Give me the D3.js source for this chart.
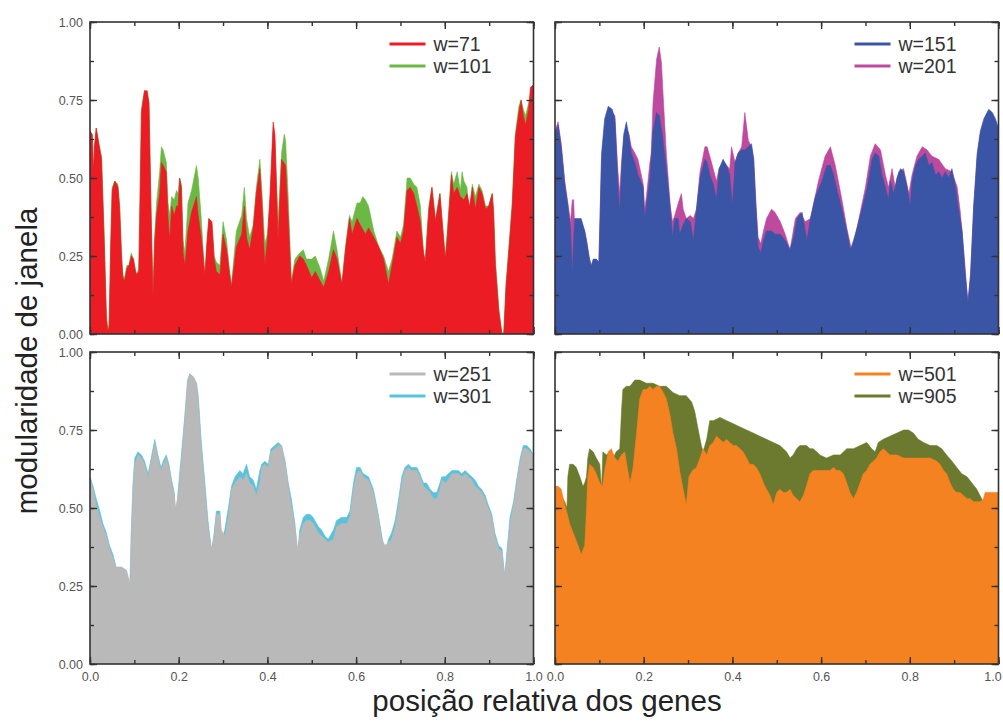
<!DOCTYPE html>
<html>
<head>
<meta charset="utf-8">
<script src="https://cdnjs.cloudflare.com/ajax/libs/d3/7.8.5/d3.min.js"></script>
<style>
  body { margin: 0; background: #fff; }
  svg { display: block; font-family: "Liberation Sans", Arial, sans-serif; }
</style>
</head>
<body>
<div id="chart"></div>
<script>
// series: [posição relativa, modularidade]
const w71 = [[0,0.65],[0.005,0.64],[0.008,0.52],[0.010,0.60],[0.014,0.66],[0.020,0.61],[0.026,0.56],[0.032,0.30],[0.037,0.05],[0.040,0.01],[0.043,0.02],[0.047,0.30],[0.050,0.46],[0.056,0.49],[0.063,0.47],[0.067,0.40],[0.071,0.25],[0.074,0.18],[0.078,0.17],[0.083,0.21],[0.088,0.22],[0.093,0.25],[0.098,0.24],[0.101,0.21],[0.105,0.19],[0.110,0.20],[0.113,0.45],[0.116,0.71],[0.120,0.75],[0.123,0.78],[0.129,0.78],[0.133,0.74],[0.135,0.59],[0.138,0.37],[0.142,0.12],[0.146,0.30],[0.150,0.38],[0.157,0.45],[0.161,0.55],[0.165,0.54],[0.172,0.52],[0.176,0.37],[0.180,0.30],[0.184,0.41],[0.190,0.38],[0.195,0.41],[0.199,0.41],[0.202,0.50],[0.206,0.47],[0.210,0.26],[0.214,0.22],[0.221,0.33],[0.229,0.39],[0.240,0.44],[0.244,0.38],[0.251,0.31],[0.259,0.19],[0.264,0.30],[0.268,0.37],[0.275,0.36],[0.280,0.24],[0.285,0.20],[0.293,0.19],[0.300,0.32],[0.308,0.27],[0.315,0.19],[0.319,0.15],[0.330,0.28],[0.342,0.32],[0.348,0.41],[0.353,0.31],[0.360,0.27],[0.368,0.34],[0.375,0.45],[0.383,0.53],[0.388,0.41],[0.394,0.22],[0.400,0.30],[0.406,0.45],[0.413,0.68],[0.417,0.64],[0.421,0.44],[0.424,0.30],[0.432,0.56],[0.441,0.54],[0.447,0.37],[0.454,0.16],[0.462,0.22],[0.473,0.25],[0.481,0.24],[0.488,0.22],[0.500,0.18],
  [0.508,0.20],[0.519,0.17],[0.527,0.15],[0.538,0.20],[0.549,0.27],[0.557,0.24],[0.568,0.16],[0.576,0.27],[0.585,0.37],[0.591,0.32],[0.602,0.37],[0.609,0.35],[0.621,0.32],[0.628,0.34],[0.640,0.31],[0.651,0.28],[0.662,0.24],[0.673,0.16],[0.681,0.22],[0.692,0.31],[0.700,0.29],[0.707,0.33],[0.715,0.46],[0.722,0.47],[0.730,0.45],[0.737,0.41],[0.745,0.36],[0.752,0.26],[0.756,0.23],[0.764,0.40],[0.771,0.47],[0.779,0.36],[0.789,0.45],[0.794,0.36],[0.801,0.24],[0.805,0.30],[0.815,0.51],[0.820,0.45],[0.828,0.47],[0.835,0.44],[0.843,0.43],[0.850,0.45],[0.856,0.41],[0.862,0.47],[0.869,0.40],[0.877,0.47],[0.884,0.45],[0.892,0.40],[0.899,0.41],[0.907,0.45],[0.910,0.39],[0.914,0.22],[0.922,0.07],[0.929,0.0],[0.933,0.0],[0.938,0.15],[0.944,0.26],[0.952,0.41],[0.959,0.63],[0.967,0.71],[0.972,0.75],[0.977,0.70],[0.982,0.67],[0.989,0.72],[0.993,0.79],[1.0,0.80]];

const w101 = [[0,0.65],[0.005,0.64],[0.008,0.52],[0.010,0.60],[0.014,0.66],[0.020,0.61],[0.026,0.57],[0.032,0.32],[0.037,0.06],[0.040,0.02],[0.043,0.03],[0.047,0.31],[0.050,0.47],[0.056,0.49],[0.063,0.48],[0.067,0.41],[0.071,0.26],[0.074,0.19],[0.078,0.18],[0.083,0.22],[0.088,0.22],[0.093,0.26],[0.098,0.24],[0.101,0.22],[0.105,0.19],[0.110,0.21],[0.113,0.46],[0.116,0.72],[0.120,0.76],[0.123,0.78],[0.129,0.77],[0.133,0.74],[0.135,0.60],[0.138,0.38],[0.142,0.13],[0.146,0.32],[0.150,0.42],[0.157,0.52],[0.161,0.60],[0.165,0.59],[0.172,0.55],[0.176,0.42],[0.180,0.38],[0.184,0.44],[0.190,0.43],[0.195,0.46],[0.199,0.45],[0.202,0.50],[0.206,0.48],[0.210,0.30],[0.214,0.26],[0.221,0.42],[0.229,0.46],[0.240,0.54],[0.244,0.50],[0.251,0.37],[0.259,0.18],[0.264,0.30],[0.268,0.37],[0.275,0.35],[0.280,0.25],[0.285,0.23],[0.293,0.22],[0.300,0.36],[0.308,0.30],[0.315,0.20],[0.319,0.16],[0.330,0.33],[0.342,0.38],[0.348,0.47],[0.353,0.37],[0.360,0.31],[0.368,0.35],[0.375,0.47],[0.383,0.56],[0.388,0.45],[0.394,0.29],[0.400,0.32],[0.406,0.43],[0.413,0.65],[0.417,0.62],[0.421,0.48],[0.424,0.36],[0.432,0.58],[0.438,0.64],[0.441,0.62],[0.447,0.44],[0.454,0.17],[0.462,0.24],[0.473,0.26],[0.481,0.27],[0.488,0.24],[0.500,0.24],
  [0.508,0.25],[0.519,0.21],[0.527,0.17],[0.538,0.24],[0.549,0.33],[0.557,0.27],[0.568,0.16],[0.576,0.28],[0.585,0.38],[0.591,0.36],[0.602,0.42],[0.609,0.42],[0.615,0.44],[0.621,0.43],[0.628,0.41],[0.640,0.33],[0.651,0.28],[0.662,0.25],[0.673,0.20],[0.681,0.24],[0.692,0.33],[0.700,0.31],[0.707,0.35],[0.715,0.50],[0.722,0.50],[0.730,0.48],[0.737,0.47],[0.745,0.41],[0.752,0.26],[0.756,0.24],[0.764,0.41],[0.771,0.47],[0.779,0.37],[0.789,0.45],[0.794,0.37],[0.801,0.25],[0.805,0.32],[0.815,0.52],[0.820,0.48],[0.828,0.52],[0.835,0.46],[0.839,0.52],[0.843,0.49],[0.850,0.47],[0.856,0.37],[0.862,0.48],[0.869,0.44],[0.877,0.48],[0.884,0.46],[0.892,0.41],[0.899,0.41],[0.907,0.45],[0.910,0.40],[0.914,0.24],[0.922,0.08],[0.929,0.0],[0.933,0.01],[0.938,0.16],[0.944,0.27],[0.952,0.42],[0.959,0.64],[0.967,0.73],[0.972,0.75],[0.977,0.72],[0.982,0.70],[0.989,0.74],[0.993,0.76],[1.0,0.77]];

const w151 = [[0,0.64],[0.007,0.67],[0.014,0.60],[0.022,0.48],[0.029,0.41],[0.035,0.34],[0.039,0.19],[0.042,0.30],[0.044,0.37],[0.052,0.37],[0.059,0.37],[0.067,0.33],[0.071,0.30],[0.078,0.24],[0.082,0.22],[0.086,0.24],[0.093,0.24],[0.099,0.23],[0.105,0.58],[0.112,0.69],[0.120,0.73],[0.129,0.72],[0.135,0.69],[0.138,0.60],[0.142,0.47],[0.146,0.39],[0.150,0.53],[0.155,0.64],[0.161,0.68],[0.167,0.63],[0.172,0.58],[0.180,0.55],[0.187,0.51],[0.193,0.49],[0.199,0.47],[0.202,0.37],[0.206,0.41],[0.214,0.50],[0.221,0.65],[0.229,0.71],[0.235,0.70],[0.242,0.64],[0.251,0.53],[0.260,0.40],[0.265,0.31],[0.270,0.37],[0.278,0.37],[0.281,0.32],[0.289,0.35],[0.296,0.37],[0.305,0.36],[0.312,0.30],[0.319,0.40],[0.327,0.50],[0.338,0.56],[0.343,0.55],[0.349,0.51],[0.357,0.48],[0.364,0.43],[0.370,0.53],[0.379,0.56],[0.387,0.54],[0.394,0.51],[0.400,0.41],[0.406,0.55],[0.413,0.58],[0.421,0.59],[0.428,0.59],[0.436,0.60],[0.443,0.61],[0.448,0.56],[0.453,0.41],[0.458,0.28],[0.464,0.26],[0.470,0.30],[0.477,0.33],[0.488,0.33],[0.496,0.32],
  [0.508,0.32],[0.519,0.30],[0.530,0.27],[0.538,0.31],[0.546,0.37],[0.557,0.39],[0.568,0.30],[0.576,0.37],[0.587,0.44],[0.602,0.49],[0.613,0.54],[0.621,0.54],[0.628,0.51],[0.636,0.46],[0.647,0.40],[0.658,0.33],[0.666,0.27],[0.673,0.30],[0.681,0.34],[0.692,0.40],[0.704,0.47],[0.715,0.56],[0.722,0.58],[0.730,0.57],[0.737,0.51],[0.745,0.47],[0.752,0.43],[0.756,0.49],[0.764,0.45],[0.771,0.50],[0.779,0.53],[0.786,0.52],[0.794,0.47],[0.801,0.41],[0.805,0.49],[0.813,0.54],[0.820,0.56],[0.828,0.57],[0.835,0.58],[0.843,0.54],[0.850,0.55],[0.858,0.51],[0.865,0.52],[0.873,0.50],[0.880,0.52],[0.888,0.50],[0.895,0.53],[0.903,0.47],[0.910,0.40],[0.918,0.33],[0.925,0.19],[0.931,0.10],[0.937,0.19],[0.944,0.41],[0.952,0.58],[0.959,0.65],[0.967,0.69],[0.978,0.72],[0.986,0.71],[0.993,0.69],[1.0,0.66]];

const w201 = [[0,0.65],[0.007,0.68],[0.014,0.61],[0.022,0.49],[0.029,0.42],[0.035,0.36],[0.039,0.43],[0.042,0.43],[0.044,0.36],[0.052,0.36],[0.059,0.36],[0.067,0.33],[0.071,0.30],[0.078,0.23],[0.082,0.20],[0.086,0.23],[0.093,0.24],[0.099,0.23],[0.105,0.55],[0.112,0.66],[0.120,0.72],[0.129,0.71],[0.135,0.70],[0.138,0.62],[0.142,0.52],[0.146,0.45],[0.150,0.55],[0.155,0.63],[0.161,0.66],[0.167,0.64],[0.172,0.60],[0.180,0.58],[0.187,0.56],[0.193,0.52],[0.199,0.48],[0.202,0.40],[0.206,0.44],[0.214,0.55],[0.217,0.58],[0.221,0.74],[0.229,0.88],[0.235,0.92],[0.240,0.87],[0.244,0.76],[0.251,0.58],[0.260,0.41],[0.265,0.36],[0.270,0.38],[0.278,0.42],[0.285,0.45],[0.289,0.40],[0.296,0.37],[0.305,0.38],[0.312,0.37],[0.319,0.40],[0.327,0.52],[0.338,0.60],[0.343,0.60],[0.353,0.55],[0.364,0.49],[0.370,0.53],[0.379,0.55],[0.387,0.54],[0.394,0.53],[0.398,0.60],[0.406,0.55],[0.413,0.58],[0.421,0.60],[0.428,0.71],[0.436,0.62],[0.443,0.60],[0.448,0.56],[0.453,0.42],[0.458,0.31],[0.464,0.29],[0.470,0.33],[0.477,0.37],[0.488,0.40],[0.496,0.39],
  [0.508,0.36],[0.519,0.32],[0.530,0.27],[0.542,0.37],[0.553,0.39],[0.564,0.36],[0.576,0.37],[0.594,0.49],[0.609,0.57],[0.621,0.60],[0.632,0.54],[0.647,0.43],[0.658,0.34],[0.670,0.26],[0.681,0.34],[0.700,0.47],[0.711,0.57],[0.722,0.61],[0.734,0.59],[0.745,0.51],[0.752,0.47],[0.760,0.53],[0.767,0.47],[0.775,0.52],[0.786,0.53],[0.798,0.45],[0.805,0.51],[0.816,0.57],[0.828,0.60],[0.839,0.59],[0.850,0.57],[0.865,0.56],[0.880,0.53],[0.895,0.52],[0.907,0.47],[0.914,0.39],[0.922,0.26],[0.931,0.10],[0.937,0.19],[0.944,0.40],[0.952,0.57],[0.959,0.64],[0.967,0.68],[0.978,0.71],[0.986,0.70],[0.993,0.68],[1.0,0.65]];

const w251 = [[0,0.59],[0.007,0.56],[0.014,0.51],[0.022,0.47],[0.029,0.44],[0.037,0.41],[0.044,0.37],[0.052,0.34],[0.059,0.31],[0.071,0.31],[0.082,0.30],[0.090,0.26],[0.093,0.41],[0.097,0.56],[0.101,0.64],[0.108,0.67],[0.116,0.66],[0.123,0.64],[0.131,0.60],[0.138,0.65],[0.146,0.71],[0.153,0.66],[0.160,0.62],[0.165,0.64],[0.172,0.66],[0.178,0.63],[0.184,0.58],[0.190,0.54],[0.193,0.50],[0.199,0.54],[0.206,0.65],[0.214,0.79],[0.220,0.90],[0.225,0.93],[0.233,0.92],[0.240,0.90],[0.244,0.84],[0.251,0.69],[0.259,0.56],[0.266,0.44],[0.274,0.37],[0.280,0.41],[0.285,0.48],[0.293,0.48],[0.296,0.43],[0.304,0.41],[0.312,0.47],[0.319,0.56],[0.327,0.58],[0.338,0.60],[0.345,0.59],[0.353,0.61],[0.360,0.58],[0.368,0.57],[0.375,0.54],[0.383,0.58],[0.387,0.63],[0.394,0.64],[0.402,0.63],[0.408,0.68],[0.417,0.69],[0.424,0.70],[0.432,0.70],[0.440,0.64],[0.447,0.57],[0.454,0.51],[0.462,0.44],[0.468,0.37],[0.473,0.41],[0.481,0.45],[0.488,0.46],[0.496,0.46],[0.503,0.45],[0.515,0.42],[0.522,0.41],[0.530,0.40],[0.537,0.39],[0.549,0.40],[0.556,0.44],[0.567,0.45],[0.579,0.45],[0.586,0.47],[0.594,0.56],[0.601,0.61],[0.609,0.62],[0.616,0.60],[0.628,0.59],[0.639,0.55],[0.650,0.47],[0.658,0.40],[0.665,0.38],[0.673,0.39],[0.680,0.40],[0.688,0.44],[0.695,0.50],[0.703,0.58],[0.710,0.62],[0.718,0.63],[0.725,0.62],[0.737,0.62],[0.744,0.60],[0.752,0.57],[0.759,0.56],[0.767,0.55],[0.774,0.53],[0.782,0.53],[0.789,0.56],[0.793,0.59],[0.801,0.58],[0.808,0.59],[0.816,0.61],[0.823,0.61],[0.831,0.61],[0.838,0.60],[0.846,0.61],[0.853,0.60],[0.861,0.59],[0.868,0.57],[0.876,0.56],[0.883,0.55],[0.891,0.53],[0.898,0.50],[0.906,0.47],[0.913,0.41],[0.921,0.37],[0.929,0.36],[0.935,0.28],[0.940,0.34],[0.947,0.45],[0.955,0.51],[0.962,0.58],[0.970,0.65],[0.977,0.69],[0.985,0.69],[0.992,0.68],[1.0,0.67]];

const w301 = [[0,0.60],[0.007,0.57],[0.014,0.53],[0.022,0.49],[0.029,0.45],[0.037,0.42],[0.044,0.38],[0.052,0.35],[0.059,0.31],[0.071,0.31],[0.082,0.30],[0.090,0.24],[0.093,0.42],[0.097,0.58],[0.101,0.66],[0.108,0.68],[0.116,0.67],[0.123,0.65],[0.131,0.61],[0.138,0.66],[0.146,0.72],[0.153,0.67],[0.160,0.63],[0.165,0.65],[0.172,0.67],[0.178,0.64],[0.184,0.59],[0.190,0.55],[0.193,0.45],[0.199,0.56],[0.206,0.67],[0.214,0.80],[0.220,0.91],[0.225,0.93],[0.233,0.92],[0.240,0.90],[0.244,0.86],[0.251,0.71],[0.259,0.58],[0.266,0.46],[0.274,0.36],[0.280,0.42],[0.285,0.49],[0.293,0.49],[0.296,0.39],[0.304,0.43],[0.312,0.50],[0.319,0.57],[0.327,0.60],[0.338,0.62],[0.345,0.61],[0.353,0.64],[0.360,0.60],[0.368,0.59],[0.375,0.56],[0.383,0.62],[0.387,0.64],[0.394,0.65],[0.402,0.64],[0.408,0.69],[0.417,0.70],[0.424,0.71],[0.432,0.70],[0.440,0.65],[0.447,0.58],[0.454,0.53],[0.462,0.45],[0.468,0.35],[0.473,0.43],[0.481,0.47],[0.488,0.48],[0.496,0.48],[0.503,0.47],[0.515,0.44],[0.522,0.43],[0.530,0.41],[0.537,0.40],[0.549,0.43],[0.556,0.46],[0.567,0.47],[0.579,0.47],[0.586,0.49],[0.594,0.58],[0.601,0.63],[0.609,0.63],[0.616,0.61],[0.628,0.60],[0.639,0.56],[0.650,0.48],[0.658,0.41],[0.665,0.35],[0.673,0.40],[0.680,0.42],[0.688,0.46],[0.695,0.52],[0.703,0.60],[0.710,0.63],[0.718,0.64],[0.725,0.63],[0.737,0.63],[0.744,0.61],[0.752,0.58],[0.759,0.58],[0.767,0.56],[0.774,0.55],[0.782,0.55],[0.789,0.58],[0.793,0.60],[0.801,0.60],[0.808,0.61],[0.816,0.62],[0.823,0.62],[0.831,0.62],[0.838,0.61],[0.846,0.62],[0.853,0.61],[0.861,0.60],[0.868,0.59],[0.876,0.57],[0.883,0.56],[0.891,0.54],[0.898,0.51],[0.906,0.48],[0.913,0.42],[0.921,0.38],[0.929,0.37],[0.935,0.28],[0.940,0.36],[0.947,0.47],[0.955,0.52],[0.962,0.59],[0.970,0.66],[0.977,0.70],[0.985,0.70],[0.992,0.69],[1.0,0.67]];

const w501 = [[0,0.57],[0.007,0.57],[0.014,0.56],[0.022,0.51],[0.026,0.49],[0.033,0.45],[0.041,0.42],[0.052,0.38],[0.059,0.35],[0.067,0.38],[0.071,0.49],[0.074,0.60],[0.078,0.64],[0.086,0.63],[0.093,0.61],[0.101,0.58],[0.107,0.57],[0.112,0.62],[0.116,0.65],[0.120,0.68],[0.127,0.69],[0.135,0.66],[0.142,0.65],[0.150,0.67],[0.157,0.68],[0.163,0.63],[0.169,0.58],[0.176,0.63],[0.184,0.74],[0.191,0.85],[0.199,0.88],[0.206,0.88],[0.214,0.89],[0.221,0.88],[0.229,0.89],[0.236,0.89],[0.244,0.87],[0.251,0.85],[0.259,0.80],[0.266,0.74],[0.274,0.69],[0.281,0.62],[0.289,0.56],[0.296,0.51],[0.302,0.60],[0.310,0.62],[0.319,0.63],[0.327,0.66],[0.334,0.69],[0.342,0.67],[0.349,0.70],[0.357,0.71],[0.364,0.73],[0.372,0.72],[0.379,0.71],[0.387,0.72],[0.394,0.71],[0.402,0.70],[0.409,0.70],[0.417,0.69],[0.424,0.68],[0.432,0.66],[0.439,0.64],[0.447,0.64],[0.454,0.63],[0.462,0.61],[0.470,0.58],[0.477,0.56],[0.485,0.54],[0.492,0.51],[0.500,0.55],[0.507,0.56],[0.515,0.55],[0.522,0.55],[0.530,0.56],[0.537,0.54],[0.545,0.53],[0.552,0.52],[0.560,0.54],[0.567,0.57],[0.575,0.61],[0.582,0.62],[0.590,0.62],[0.597,0.62],[0.605,0.62],[0.612,0.62],[0.620,0.62],[0.628,0.63],[0.635,0.62],[0.643,0.62],[0.650,0.61],[0.658,0.58],[0.665,0.55],[0.673,0.53],[0.680,0.55],[0.688,0.58],[0.695,0.61],[0.703,0.62],[0.710,0.64],[0.718,0.65],[0.725,0.66],[0.733,0.68],[0.740,0.69],[0.748,0.68],[0.755,0.67],[0.763,0.67],[0.771,0.67],[0.786,0.66],[0.801,0.66],[0.816,0.66],[0.831,0.66],[0.846,0.66],[0.861,0.65],[0.868,0.64],[0.876,0.62],[0.883,0.61],[0.891,0.58],[0.898,0.56],[0.906,0.55],[0.913,0.55],[0.921,0.54],[0.929,0.53],[0.936,0.53],[0.944,0.52],[0.951,0.52],[0.959,0.52],[0.966,0.53],[0.970,0.55],[1.0,0.55]];

const w905 = [[0,0.57],[0.022,0.52],[0.027,0.50],[0.029,0.60],[0.033,0.64],[0.041,0.64],[0.048,0.63],[0.056,0.60],[0.063,0.57],[0.067,0.58],[0.071,0.60],[0.074,0.66],[0.078,0.69],[0.086,0.68],[0.093,0.66],[0.101,0.64],[0.105,0.56],[0.108,0.68],[0.116,0.67],[0.123,0.68],[0.131,0.66],[0.138,0.68],[0.146,0.69],[0.150,0.81],[0.153,0.88],[0.161,0.89],[0.169,0.89],[0.180,0.91],[0.191,0.91],[0.206,0.90],[0.221,0.90],[0.236,0.89],[0.251,0.89],[0.266,0.87],[0.281,0.86],[0.296,0.86],[0.308,0.84],[0.315,0.81],[0.323,0.75],[0.330,0.70],[0.334,0.68],[0.342,0.72],[0.349,0.78],[0.357,0.78],[0.372,0.79],[0.387,0.78],[0.402,0.77],[0.417,0.76],[0.432,0.75],[0.447,0.74],[0.462,0.73],[0.477,0.72],[0.492,0.71],[0.507,0.70],[0.522,0.68],[0.530,0.66],[0.537,0.67],[0.545,0.69],[0.552,0.70],[0.560,0.70],[0.567,0.70],[0.575,0.69],[0.582,0.69],[0.590,0.68],[0.597,0.67],[0.612,0.66],[0.628,0.67],[0.643,0.67],[0.658,0.69],[0.673,0.69],[0.688,0.70],[0.703,0.71],[0.714,0.69],[0.722,0.68],[0.729,0.71],[0.740,0.72],[0.755,0.73],[0.771,0.74],[0.786,0.75],[0.797,0.75],[0.808,0.74],[0.819,0.72],[0.831,0.71],[0.846,0.70],[0.861,0.70],[0.872,0.69],[0.883,0.67],[0.895,0.65],[0.906,0.63],[0.917,0.61],[0.929,0.60],[0.940,0.58],[0.951,0.56],[0.962,0.53],[0.966,0.51],[0.970,0.50],[1.0,0.50]];

const yTicks = [0, 0.25, 0.5, 0.75, 1];
const xTicks = [0, 0.2, 0.4, 0.6, 0.8, 1];
const yTitle = "modularidade de janela";
const xTitle = "posição relativa dos genes";

const W = 1003, H = 722;
const cols = [[90, 533.5], [555, 998.5]];
const rows = [[22, 334], [352, 664]];

// panels: back series (bigger window) first, then front series
const panels = [
  { col: 0, row: 0, back: { name: "w=101", data: w101, color: "#6cb844" }, front: { name: "w=71", data: w71, color: "#ec1c24" } },
  { col: 1, row: 0, back: { name: "w=201", data: w201, color: "#bd4a9e" }, front: { name: "w=151", data: w151, color: "#3b55a6" } },
  { col: 0, row: 1, back: { name: "w=301", data: w301, color: "#5ac3dc" }, front: { name: "w=251", data: w251, color: "#b9b9b9" } },
  { col: 1, row: 1, back: { name: "w=905", data: w905, color: "#6b7a2e" }, front: { name: "w=501", data: w501, color: "#f58220" } }
];

const svg = d3.select("#chart").append("svg")
  .attr("width", W).attr("height", H);
svg.append("rect").attr("width", W).attr("height", H).attr("fill", "#fff");

panels.forEach(function(p, i) {
  const [x0, x1] = cols[p.col];
  const [y0, y1] = rows[p.row];
  const x = d3.scaleLinear().domain([0, 1]).range([x0, x1]);
  const y = d3.scaleLinear().domain([0, 1]).range([y1, y0]);
  const g = svg.append("g");

  g.append("clipPath").attr("id", "clip" + i)
    .append("rect").attr("x", x0).attr("y", y0).attr("width", x1 - x0).attr("height", y1 - y0);

  const area = d3.area().x(d => x(d[0])).y0(y(0)).y1(d => y(d[1]));
  [p.back, p.front].forEach(s => {
    g.append("path").datum(s.data)
      .attr("clip-path", "url(#clip" + i + ")")
      .attr("d", area)
      .attr("fill", s.color)
      .attr("stroke", s.color)
      .attr("stroke-width", 0.6);
  });

  // ticks pointing inward on all four sides
  const minorX = d3.range(0, 1.0001, 0.1);
  const minorY = d3.range(0, 1.0001, 0.125);
  const showY = p.col === 0, showX = p.row === 1;

  const axes = [
    [d3.axisLeft(y).tickValues(minorY).tickSize(-4).tickFormat(""), x0, 0],
    [d3.axisLeft(y).tickValues(yTicks).tickSize(-7).tickPadding(7).tickFormat(showY ? d3.format(".2f") : ""), x0, 0],
    [d3.axisRight(y).tickValues(minorY).tickSize(-4).tickFormat(""), x1, 0],
    [d3.axisRight(y).tickValues(yTicks).tickSize(-7).tickFormat(""), x1, 0],
    [d3.axisTop(x).tickValues(minorX).tickSize(-4).tickFormat(""), 0, y0],
    [d3.axisTop(x).tickValues(xTicks).tickSize(-7).tickFormat(""), 0, y0],
    [d3.axisBottom(x).tickValues(minorX).tickSize(-4).tickFormat(""), 0, y1],
    [d3.axisBottom(x).tickValues(xTicks).tickSize(-7).tickPadding(8).tickFormat(showX ? d3.format(".1f") : ""), 0, y1]
  ];
  axes.forEach(([ax, tx, ty]) => {
    const a = g.append("g").attr("transform", `translate(${tx},${ty})`).call(ax);
    a.select(".domain").remove();
    a.selectAll("line").attr("stroke", "#333").attr("stroke-width", 1.4);
    a.selectAll("text").attr("fill", "#555").style("font-size", "12.5px")
      .style("font-family", "'Liberation Sans', Arial, sans-serif");
  });

  // keep the last x label of the right column inside the page
  if (showX && p.col === 1) {
    g.selectAll(".tick text").filter(d => d === 1).attr("dx", -6);
  }

  g.append("rect")
    .attr("x", x0).attr("y", y0).attr("width", x1 - x0).attr("height", y1 - y0)
    .attr("fill", "none").attr("stroke", "#333").attr("stroke-width", 1.6);

  // legend
  [p.front, p.back].forEach((s, k) => {
    const ly = y0 + 29 + k * 22;
    g.append("line")
      .attr("x1", x1 - 144).attr("x2", x1 - 108)
      .attr("y1", ly - 7).attr("y2", ly - 7)
      .attr("stroke", s.color).attr("stroke-width", 3);
    g.append("text")
      .attr("x", x1 - 100).attr("y", ly)
      .attr("fill", "#333").style("font-size", "19.5px")
      .text(s.name);
  });
});

svg.append("text")
  .attr("transform", "translate(37,361) rotate(-90)")
  .attr("text-anchor", "middle")
  .attr("fill", "#222").style("font-size", "29.5px")
  .text(yTitle);

svg.append("text")
  .attr("x", 547).attr("y", 711)
  .attr("text-anchor", "middle")
  .attr("fill", "#222").style("font-size", "29.5px")
  .text(xTitle);
</script>
</body>
</html>
